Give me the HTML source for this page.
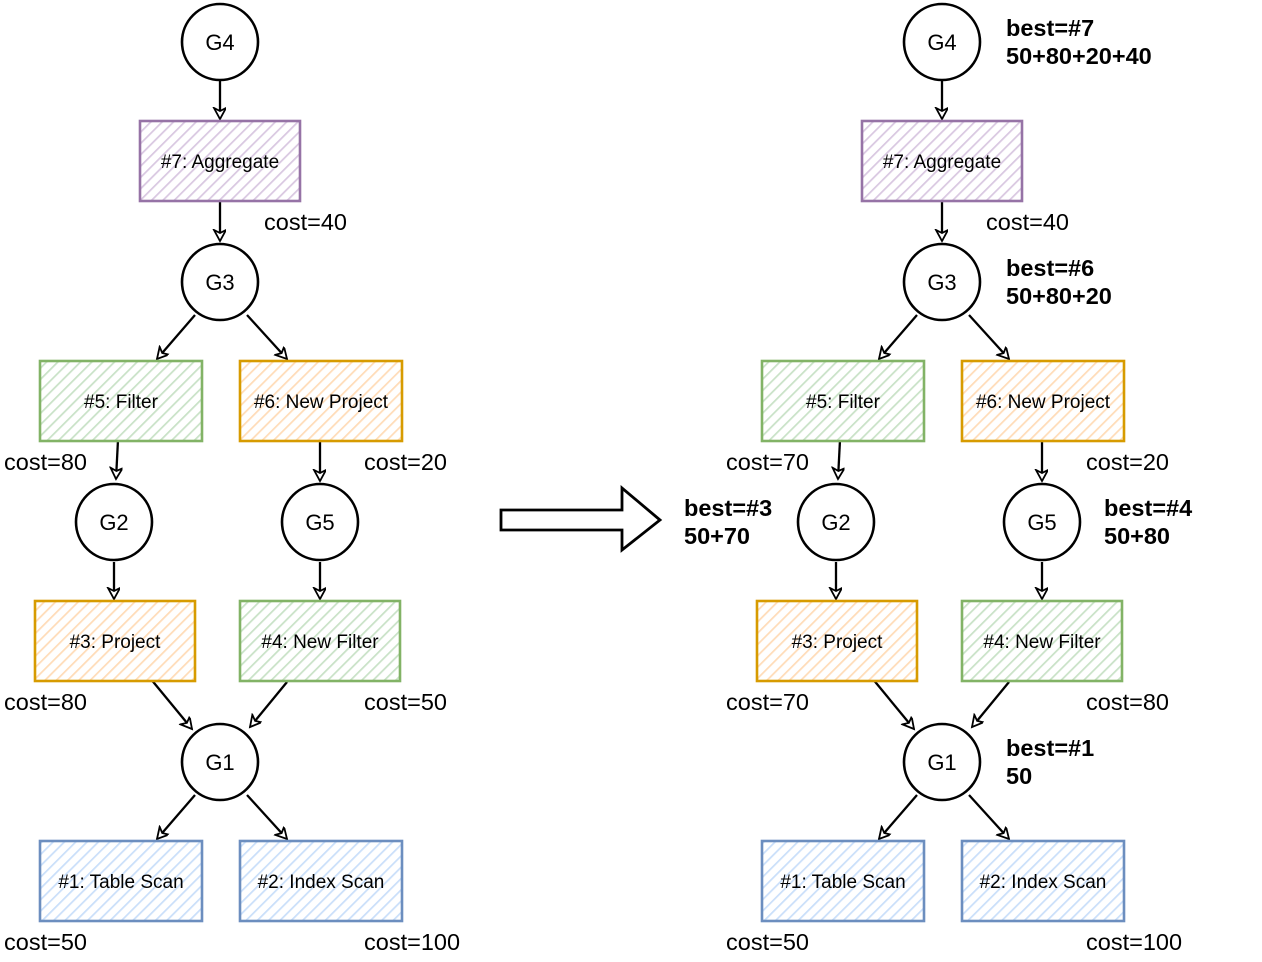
<!DOCTYPE html>
<html><head><meta charset="utf-8"><style>
html,body{margin:0;padding:0;background:#fff}
svg{display:block}
text{font-family:"Liberation Sans",sans-serif}
.n{font-size:19px;text-anchor:middle;fill:#000}
.c{font-size:23.5px;fill:#000}
.b{font-size:23.5px;font-weight:bold;fill:#000}
.g{font-size:22px;text-anchor:middle;fill:#000}
circle{fill:#fff;stroke:#000;stroke-width:2.6}
.e{stroke:#000;stroke-width:2.3;fill:none;marker-end:url(#ah)}
</style></head><body>
<svg width="1262" height="962" viewBox="0 0 1262 962">
<defs>
<marker id="ah" markerWidth="16" markerHeight="16" refX="12" refY="6" orient="auto" markerUnits="userSpaceOnUse">
<path d="M1,0 L12,6 L1,12 L4,6 Z" fill="#fff" stroke="#000" stroke-width="1.8"/>
</marker>
<pattern id="pp" width="8" height="8" patternUnits="userSpaceOnUse" patternTransform="rotate(45)"><rect width="8" height="8" fill="#fff"/><line x1="0" y1="0" x2="0" y2="8" stroke="#d9c8e1" stroke-width="3.5"/></pattern>
<pattern id="pg" width="8" height="8" patternUnits="userSpaceOnUse" patternTransform="rotate(45)"><rect width="8" height="8" fill="#fff"/><line x1="0" y1="0" x2="0" y2="8" stroke="#c9e2c7" stroke-width="3.5"/></pattern>
<pattern id="po" width="8" height="8" patternUnits="userSpaceOnUse" patternTransform="rotate(45)"><rect width="8" height="8" fill="#fff"/><line x1="0" y1="0" x2="0" y2="8" stroke="#ffdcb8" stroke-width="3.5"/></pattern>
<pattern id="pb" width="8" height="8" patternUnits="userSpaceOnUse" patternTransform="rotate(45)"><rect width="8" height="8" fill="#fff"/><line x1="0" y1="0" x2="0" y2="8" stroke="#cadffa" stroke-width="3.5"/></pattern>
</defs>

<path d="M501,510 L622,510 L622,488 L660,520 L622,550 L622,530 L501,530 Z" fill="#fff" stroke="#000" stroke-width="2.8"/>

<g>
<path class="e" d="M220,80 L220,119"/>
<path class="e" d="M220,200 L220,241"/>
<path class="e" d="M195,315 L157,359"/>
<path class="e" d="M247,315 L287,359"/>
<path class="e" d="M118,440 L116,479"/>
<path class="e" d="M320,440 L320,481"/>
<path class="e" d="M114,562 L114,599"/>
<path class="e" d="M320,562 L320,599"/>
<path class="e" d="M150,678 L192,729"/>
<path class="e" d="M287,682 L250,727"/>
<path class="e" d="M195,795 L157,839"/>
<path class="e" d="M247,795 L287,839"/>
</g>
<g transform="translate(722,0)">
<path class="e" d="M220,80 L220,119"/>
<path class="e" d="M220,200 L220,241"/>
<path class="e" d="M195,315 L157,359"/>
<path class="e" d="M247,315 L287,359"/>
<path class="e" d="M118,440 L116,479"/>
<path class="e" d="M320,440 L320,481"/>
<path class="e" d="M114,562 L114,599"/>
<path class="e" d="M320,562 L320,599"/>
<path class="e" d="M150,678 L192,729"/>
<path class="e" d="M287,682 L250,727"/>
<path class="e" d="M195,795 L157,839"/>
<path class="e" d="M247,795 L287,839"/>
</g>

<circle cx="220" cy="42" r="38"/><text class="g" x="220" y="50">G4</text>
<rect x="140" y="121" width="160" height="80" fill="url(#pp)" stroke="#9673a6" stroke-width="2.6"/><text class="n" x="220" y="168">#7: Aggregate</text>
<circle cx="220" cy="282" r="38"/><text class="g" x="220" y="290">G3</text>
<rect x="40" y="361" width="162" height="80" fill="url(#pg)" stroke="#82b366" stroke-width="2.6"/><text class="n" x="121" y="408">#5: Filter</text>
<rect x="240" y="361" width="162" height="80" fill="url(#po)" stroke="#d79b00" stroke-width="2.6"/><text class="n" x="321" y="408">#6: New Project</text>
<circle cx="114" cy="522" r="38"/><text class="g" x="114" y="530">G2</text>
<circle cx="320" cy="522" r="38"/><text class="g" x="320" y="530">G5</text>
<rect x="35" y="601" width="160" height="80" fill="url(#po)" stroke="#d79b00" stroke-width="2.6"/><text class="n" x="115" y="648">#3: Project</text>
<rect x="240" y="601" width="160" height="80" fill="url(#pg)" stroke="#82b366" stroke-width="2.6"/><text class="n" x="320" y="648">#4: New Filter</text>
<circle cx="220" cy="762" r="38"/><text class="g" x="220" y="770">G1</text>
<rect x="40" y="841" width="162" height="80" fill="url(#pb)" stroke="#6c8ebf" stroke-width="2.6"/><text class="n" x="121" y="888">#1: Table Scan</text>
<rect x="240" y="841" width="162" height="80" fill="url(#pb)" stroke="#6c8ebf" stroke-width="2.6"/><text class="n" x="321" y="888">#2: Index Scan</text>
<text class="c" x="264" y="230">cost=40</text>
<text class="c" x="4" y="470">cost=80</text>
<text class="c" x="364" y="470">cost=20</text>
<text class="c" x="4" y="710">cost=80</text>
<text class="c" x="364" y="710">cost=50</text>
<text class="c" x="4" y="950">cost=50</text>
<text class="c" x="364" y="950">cost=100</text>

<g transform="translate(722,0)">
<circle cx="220" cy="42" r="38"/><text class="g" x="220" y="50">G4</text>
<rect x="140" y="121" width="160" height="80" fill="url(#pp)" stroke="#9673a6" stroke-width="2.6"/><text class="n" x="220" y="168">#7: Aggregate</text>
<circle cx="220" cy="282" r="38"/><text class="g" x="220" y="290">G3</text>
<rect x="40" y="361" width="162" height="80" fill="url(#pg)" stroke="#82b366" stroke-width="2.6"/><text class="n" x="121" y="408">#5: Filter</text>
<rect x="240" y="361" width="162" height="80" fill="url(#po)" stroke="#d79b00" stroke-width="2.6"/><text class="n" x="321" y="408">#6: New Project</text>
<circle cx="114" cy="522" r="38"/><text class="g" x="114" y="530">G2</text>
<circle cx="320" cy="522" r="38"/><text class="g" x="320" y="530">G5</text>
<rect x="35" y="601" width="160" height="80" fill="url(#po)" stroke="#d79b00" stroke-width="2.6"/><text class="n" x="115" y="648">#3: Project</text>
<rect x="240" y="601" width="160" height="80" fill="url(#pg)" stroke="#82b366" stroke-width="2.6"/><text class="n" x="320" y="648">#4: New Filter</text>
<circle cx="220" cy="762" r="38"/><text class="g" x="220" y="770">G1</text>
<rect x="40" y="841" width="162" height="80" fill="url(#pb)" stroke="#6c8ebf" stroke-width="2.6"/><text class="n" x="121" y="888">#1: Table Scan</text>
<rect x="240" y="841" width="162" height="80" fill="url(#pb)" stroke="#6c8ebf" stroke-width="2.6"/><text class="n" x="321" y="888">#2: Index Scan</text>
<text class="c" x="264" y="230">cost=40</text>
<text class="c" x="4" y="470">cost=70</text>
<text class="c" x="364" y="470">cost=20</text>
<text class="c" x="4" y="710">cost=70</text>
<text class="c" x="364" y="710">cost=80</text>
<text class="c" x="4" y="950">cost=50</text>
<text class="c" x="364" y="950">cost=100</text>
</g>
<text class="b" x="1006" y="36">best=#7</text>
<text class="b" x="1006" y="64">50+80+20+40</text>
<text class="b" x="1006" y="276">best=#6</text>
<text class="b" x="1006" y="304">50+80+20</text>
<text class="b" x="684" y="516">best=#3</text>
<text class="b" x="684" y="544">50+70</text>
<text class="b" x="1104" y="516">best=#4</text>
<text class="b" x="1104" y="544">50+80</text>
<text class="b" x="1006" y="756">best=#1</text>
<text class="b" x="1006" y="784">50</text>
</svg>
</body></html>
